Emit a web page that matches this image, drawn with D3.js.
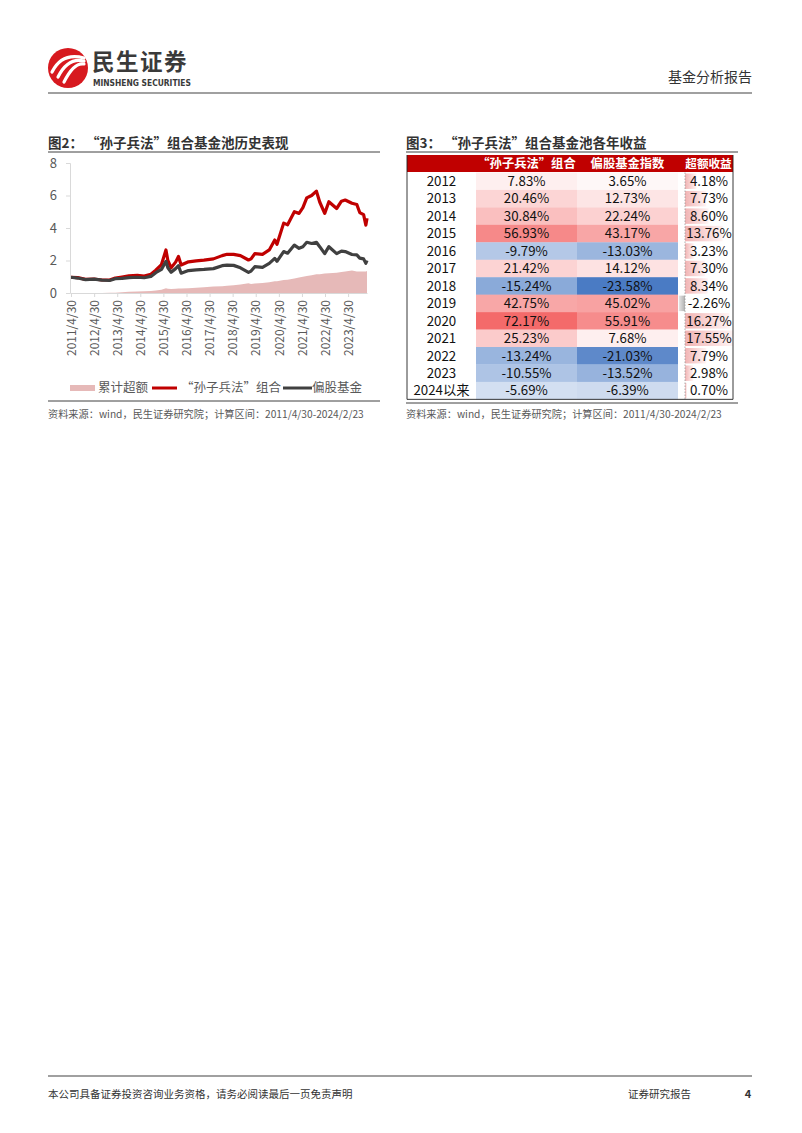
<!DOCTYPE html>
<html><head><meta charset="utf-8">
<script src="https://cdn.jsdelivr.net/npm/d3@7"></script>
<style>
html,body{margin:0;padding:0;background:#fff;}
svg{display:block;font-family:"Noto Sans CJK SC","Noto Sans",sans-serif;}
</style></head>
<body>
<svg id="page" width="802" height="1133"></svg>
<script>
// ---------- DATA ----------
const dates = ["2011-04-30","2011-08-15","2011-12-15","2012-04-30","2012-08-31","2012-12-31","2013-03-31","2013-07-15","2013-10-31","2014-03-15","2014-06-30","2014-10-15","2014-12-31","2015-03-31","2015-06-10","2015-07-10","2015-08-31","2015-11-10","2015-12-25","2016-02-05","2016-05-31","2016-09-30","2017-01-31","2017-06-30","2017-11-15","2018-01-31","2018-05-15","2018-08-31","2019-01-05","2019-02-15","2019-04-15","2019-08-15","2019-11-30","2020-02-25","2020-03-31","2020-07-15","2020-09-15","2020-12-31","2021-03-15","2021-05-15","2021-07-15","2021-09-30","2021-12-15","2022-02-05","2022-04-25","2022-06-30","2022-10-31","2023-01-15","2023-03-15","2023-06-30","2023-09-15","2023-10-31","2023-12-31","2024-02-05","2024-02-23"];
const sunziSeries = [0.97,0.95,0.84,0.86,0.80,0.80,0.92,0.98,1.05,1.08,1.04,1.15,1.40,1.75,2.65,2.00,1.55,1.90,2.25,1.72,1.92,1.98,2.02,2.10,2.30,2.38,2.38,2.30,2.03,2.10,2.42,2.38,2.65,3.26,3.00,4.30,4.20,5.00,4.90,5.25,5.85,6.00,6.27,5.60,4.90,5.62,5.20,5.65,5.72,5.52,5.45,4.95,4.82,4.18,4.60];
const equityFundSeries = [0.97,0.92,0.82,0.85,0.79,0.77,0.88,0.90,0.95,0.97,0.94,1.02,1.25,1.45,1.95,1.55,1.28,1.50,1.68,1.22,1.38,1.42,1.45,1.50,1.68,1.72,1.70,1.55,1.27,1.35,1.62,1.58,1.82,2.13,1.95,2.55,2.45,2.95,2.75,2.85,3.12,3.05,3.12,2.85,2.42,2.85,2.42,2.58,2.55,2.37,2.35,2.15,2.10,1.83,2.00];
const excessSeries = [0,0,0,0,0,0.01,0.02,0.05,0.08,0.10,0.11,0.13,0.16,0.20,0.30,0.26,0.24,0.26,0.28,0.27,0.30,0.33,0.36,0.40,0.42,0.45,0.48,0.52,0.60,0.56,0.58,0.62,0.66,0.72,0.72,0.80,0.82,0.90,0.95,1.00,1.05,1.10,1.15,1.15,1.20,1.22,1.25,1.30,1.33,1.38,1.33,1.33,1.33,1.33,1.35];
const xTickLabels = ["2011/4/30","2012/4/30","2013/4/30","2014/4/30","2015/4/30","2016/4/30","2017/4/30","2018/4/30","2019/4/30","2020/4/30","2021/4/30","2022/4/30","2023/4/30"];
const yTicks = [0,2,4,6,8];
const legendLabels = ["累计超额","“孙子兵法”组合","偏股基金"];

const tableHeaders = ["","“孙子兵法”组合","偏股基金指数","超额收益"];
const years = ["2012","2013","2014","2015","2016","2017","2018","2019","2020","2021","2022","2023","2024以来"];
const sunziReturns = [7.83,20.46,30.84,56.93,-9.79,21.42,-15.24,42.75,72.17,25.23,-13.24,-10.55,-5.69];
const fundReturns = [3.65,12.73,22.24,43.17,-13.03,14.12,-23.58,45.02,55.91,7.68,-21.03,-13.52,-6.39];
const excessReturns = [4.18,7.73,8.60,13.76,3.23,7.30,8.34,-2.26,16.27,17.55,7.79,2.98,0.70];

// ---------- PAGE ----------
const svg = d3.select("#page");
const txtDark = "#333333", grayTxt = "#595959";

// header logo
const logo = svg.append("g");
logo.append("circle").attr("cx",68).attr("cy",68).attr("r",20).attr("fill","#d7191f");
[[0,0],[6,5],[12,10]].forEach(([dx,dy])=>{
  logo.append("path")
    .attr("d",`M${52+dx},${72+dy} Q${62+dx},${52+dy} ${84},${58+dy*0.6}`)
    .attr("fill","none").attr("stroke","#fff").attr("stroke-width",3.2).attr("stroke-linecap","round");
});
svg.append("text").attr("x",92).attr("y",69.5).attr("font-size",22.5).attr("font-weight","bold")
  .attr("fill","#3a3a3a").attr("letter-spacing",1.5).text("民生证券");
svg.append("text").attr("x",93).attr("y",85.5).attr("font-size",8.4).attr("font-weight","bold")
  .attr("fill","#3a3a3a").attr("font-family","'Liberation Sans Narrow','DejaVu Sans Condensed',sans-serif").text("MINSHENG SECURITIES");
svg.append("text").attr("x",752).attr("y",82).attr("text-anchor","end").attr("font-size",14)
  .attr("fill",txtDark).text("基金分析报告");
svg.append("line").attr("x1",48).attr("x2",752).attr("y1",93).attr("y2",93)
  .attr("stroke","#808080").attr("stroke-width",1.5);

// footer
svg.append("line").attr("x1",48).attr("x2",752).attr("y1",1076).attr("y2",1076)
  .attr("stroke","#808080").attr("stroke-width",1.5);
svg.append("text").attr("x",48).attr("y",1098).attr("font-size",10.5).attr("fill",txtDark)
  .text("本公司具备证券投资咨询业务资格，请务必阅读最后一页免责声明");
svg.append("text").attr("x",628).attr("y",1098).attr("font-size",10.5).attr("fill",txtDark).text("证券研究报告");
svg.append("text").attr("x",748).attr("y",1098).attr("text-anchor","middle").attr("font-size",11).attr("font-weight","bold").attr("fill",txtDark).text("4");

// ---------- CHART (图2) ----------
svg.append("text").attr("x",48).attr("y",148).attr("font-size",13.5).attr("font-weight","bold")
  .attr("fill",txtDark).attr("xml:space","preserve").text("图2： “孙子兵法”组合基金池历史表现");
svg.append("line").attr("x1",48).attr("x2",380).attr("y1",152).attr("y2",152).attr("stroke","#404040").attr("stroke-width",1);

const parse = d3.timeParse("%Y-%m-%d");
const dts = dates.map(parse);
const x = d3.scaleTime().domain([parse("2011-04-30"), parse("2024-02-23")]).range([71,367]);
const y = d3.scaleLinear().domain([0,8]).range([293,163]);

// pink area
const area = d3.area().x((d,i)=>x(dts[i])).y0(y(0)).y1(d=>y(d));
svg.append("path").datum(excessSeries).attr("d",area).attr("fill","#e6b9b8");

const line = d3.line().x((d,i)=>x(dts[i])).y(d=>y(d)).curve(d3.curveLinear);
svg.append("path").datum(sunziSeries).attr("d",line).attr("fill","none")
  .attr("stroke","#c00000").attr("stroke-width",3.2).attr("stroke-linejoin","round");
svg.append("path").datum(equityFundSeries).attr("d",line).attr("fill","none")
  .attr("stroke","#404040").attr("stroke-width",3.2).attr("stroke-linejoin","round");

// y axis
const yAxis = svg.append("g").attr("transform","translate(70,0)")
  .call(d3.axisLeft(y).tickValues(yTicks).tickSize(4).tickPadding(9).tickFormat(d3.format("d")));
yAxis.select(".domain").attr("stroke","#d9d9d9");
yAxis.selectAll(".tick line").attr("stroke","#d9d9d9");
yAxis.selectAll("text").attr("font-size",13).attr("fill",grayTxt).attr("font-family","'Noto Sans CJK SC',sans-serif");

// x axis
const tickDates = xTickLabels.map(s=>d3.timeParse("%Y/%m/%d")(s));
const xAxis = svg.append("g").attr("transform","translate(0,293)")
  .call(d3.axisBottom(x).tickValues(tickDates).tickSize(4).tickSizeOuter(0).tickFormat((d,i)=>xTickLabels[i]));
xAxis.select(".domain").attr("stroke","#d9d9d9");
xAxis.selectAll(".tick line").attr("stroke","#d9d9d9");
xAxis.selectAll("text").attr("font-size",12).attr("fill",grayTxt)
  .attr("font-family","'Noto Sans CJK SC',sans-serif")
  .attr("transform","rotate(-90)").attr("text-anchor","end").attr("dy","0.35em").attr("x",-7).attr("y",0);

// legend
const lg = svg.append("g").attr("font-size",12.5).attr("fill",grayTxt);
lg.append("rect").attr("x",70).attr("y",385).attr("width",25).attr("height",6).attr("fill","#e6b9b8");
lg.append("text").attr("x",98).attr("y",392).attr("fill",grayTxt).text(legendLabels[0]);
lg.append("line").attr("x1",152).attr("x2",177).attr("y1",388).attr("y2",388).attr("stroke","#c00000").attr("stroke-width",3);
lg.append("text").attr("x",181).attr("y",392).attr("fill",grayTxt).text(legendLabels[1]);
lg.append("line").attr("x1",283).attr("x2",312).attr("y1",388).attr("y2",388).attr("stroke","#404040").attr("stroke-width",3);
lg.append("text").attr("x",312).attr("y",392).attr("fill",grayTxt).text(legendLabels[2]);

svg.append("line").attr("x1",48).attr("x2",380).attr("y1",401).attr("y2",401).attr("stroke","#404040").attr("stroke-width",1);
svg.append("text").attr("x",48).attr("y",418).attr("font-size",10.2).attr("fill",grayTxt)
  .text("资料来源：wind，民生证券研究院；计算区间：2011/4/30-2024/2/23");

// ---------- TABLE (图3) ----------
svg.append("text").attr("x",406).attr("y",148).attr("font-size",13.5).attr("font-weight","bold")
  .attr("fill",txtDark).attr("xml:space","preserve").text("图3： “孙子兵法”组合基金池各年收益");
svg.append("line").attr("x1",406).attr("x2",738).attr("y1",152).attr("y2",152).attr("stroke","#404040").attr("stroke-width",1);

const colX = [407,476,577,678,685,733]; // year | col2 | col3 | gap | col4
const headTop = 155, headH = 17, rowTop = 172.5, rowH = 17.45;
const rowScale = d3.scaleBand().domain(years).range([rowTop, rowTop + rowH*years.length]);

svg.append("rect").attr("x",407).attr("y",headTop).attr("width",326).attr("height",headH).attr("fill","#c00000");
const headCenters = [441.5,526.5,627.5,708.5];
tableHeaders.forEach((h,i)=>{
  if(!h) return;
  svg.append("text").attr("x",headCenters[i]).attr("y",headTop+headH/2).attr("dy","0.36em")
    .attr("text-anchor","middle").attr("font-size",i===3?11.6:12.3).attr("font-weight","bold").attr("fill","#fff").text(h);
});

const maxPos = d3.max(sunziReturns.concat(fundReturns));
const minNeg = d3.min(sunziReturns.concat(fundReturns));
const posC = d3.scaleLinear().domain([0,maxPos]).range(["#ffffff","#f46a6a"]).interpolate(d3.interpolateRgb);
const negC = d3.scaleLinear().domain([minNeg,0]).range(["#4a7bc4","#ffffff"]).interpolate(d3.interpolateRgb);
const cellColor = v => v>=0 ? posC(v) : negC(v);

const defs = svg.append("defs");
const grad = defs.append("linearGradient").attr("id","barGrad").attr("x1","0").attr("x2","1");
grad.append("stop").attr("offset","0").attr("stop-color","#f1b3b3");
grad.append("stop").attr("offset","1").attr("stop-color","#fff4f4");
const gradN = defs.append("linearGradient").attr("id","barGradN").attr("x1","1").attr("x2","0");
gradN.append("stop").attr("offset","0").attr("stop-color","#b0b0b0");
gradN.append("stop").attr("offset","1").attr("stop-color","#e6e6e6");

const barAxisX = 685;
const barScale = d3.scaleLinear().domain([0, d3.max(excessReturns)]).range([0, 48]);
const fmt = v => v.toFixed(2) + "%";

years.forEach((yr,i)=>{
  const top = rowScale(yr), cy = top + rowH/2;
  svg.append("rect").attr("x",colX[1]).attr("y",top).attr("width",colX[2]-colX[1]).attr("height",rowH+0.3).attr("fill",cellColor(sunziReturns[i]));
  svg.append("rect").attr("x",colX[2]).attr("y",top).attr("width",colX[3]-colX[2]).attr("height",rowH+0.3).attr("fill",cellColor(fundReturns[i]));
  const ev = excessReturns[i];
  if(ev>=0){
    svg.append("rect").attr("x",barAxisX).attr("y",top+1).attr("width",barScale(ev)).attr("height",rowH-2).attr("fill","url(#barGrad)");
  } else {
    const w = barScale(-ev);
    svg.append("rect").attr("x",barAxisX-w).attr("y",top+1).attr("width",w).attr("height",rowH-2).attr("fill","url(#barGradN)");
  }
  const g = svg.append("g").attr("font-size",13.3).attr("fill","#111");
  g.append("text").attr("x",441.5).attr("y",cy).attr("dy","0.36em").attr("text-anchor","middle").text(yr);
  g.append("text").attr("x",526.5).attr("y",cy).attr("dy","0.36em").attr("text-anchor","middle").text(fmt(sunziReturns[i]));
  g.append("text").attr("x",627.5).attr("y",cy).attr("dy","0.36em").attr("text-anchor","middle").text(fmt(fundReturns[i]));
  g.append("text").attr("x",709).attr("y",cy).attr("dy","0.36em").attr("text-anchor","middle").text(fmt(ev));
});
const tableBottom = rowTop + rowH*years.length;
svg.append("line").attr("x1",barAxisX).attr("x2",barAxisX).attr("y1",rowTop).attr("y2",tableBottom)
  .attr("stroke","#999").attr("stroke-width",0.8).attr("stroke-dasharray","1.5,1.5");
// borders
svg.append("path").attr("d",`M407,${headTop}V${tableBottom}H733V${headTop}`).attr("fill","none").attr("stroke","#222").attr("stroke-width",0.9);

svg.append("line").attr("x1",406).attr("x2",738).attr("y1",403).attr("y2",403).attr("stroke","#404040").attr("stroke-width",1);
svg.append("text").attr("x",406).attr("y",418).attr("font-size",10.2).attr("fill",grayTxt)
  .text("资料来源：wind，民生证券研究院；计算区间：2011/4/30-2024/2/23");
</script>
</body></html>
